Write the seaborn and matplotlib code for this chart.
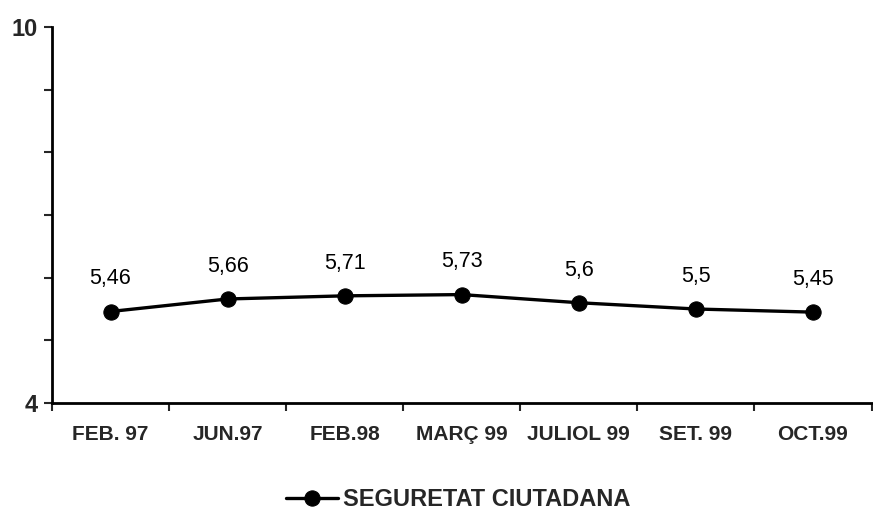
import matplotlib
matplotlib.use("Agg")
import matplotlib.pyplot as plt
import seaborn as sns
import pandas as pd
import numpy as np
from matplotlib.ticker import FixedLocator, FuncFormatter

categories = ["FEB. 97", "JUN.97", "FEB.98", "MARÇ 99", "JULIOL 99", "SET. 99", "OCT.99"]
values = [5.46, 5.66, 5.71, 5.73, 5.6, 5.5, 5.45]
value_labels = ["5,46", "5,66", "5,71", "5,73", "5,6", "5,5", "5,45"]
series_name = "SEGURETAT CIUTADANA"

sns.set_style("white")
plt.rcParams['font.family'] = ['Liberation Sans', 'DejaVu Sans']

df = pd.DataFrame({"cat": categories, "val": values, "serie": series_name})

fig = plt.figure(figsize=(8.73, 5.17), dpi=100)
ax = fig.add_axes([52/873, 1-403/517, (871.5-52)/873, (403-27)/517])

sns.lineplot(data=df, x="cat", y="val", ax=ax, color="black", linewidth=2.4,
             marker="o", markersize=11, markeredgecolor="black", label=series_name,
             sort=False)

for i, (v, t) in enumerate(zip(values, value_labels)):
    ax.annotate(t, (i, v), xytext=(0, 16), textcoords="offset points",
                ha="center", va="bottom", fontsize=15.5, color="black")

ax.set_xlim(-0.5, len(categories) - 0.5)
ax.set_ylim(4, 10)
ax.set_xlabel("")
ax.set_ylabel("")

ax.set_xticks(range(len(categories)))
ax.set_xticklabels(categories, fontsize=15, fontweight="bold")
ax.xaxis.set_minor_locator(FixedLocator(np.arange(-0.5, len(categories), 1.0)))
ax.tick_params(axis="x", which="major", length=0, pad=16)
ax.tick_params(axis="x", which="minor", length=6, width=1.5, direction="out", bottom=True)

ax.set_yticks(np.arange(4, 11, 1))
ax.yaxis.set_major_formatter(FuncFormatter(lambda v, p: f"{int(v)}" if v in (4, 10) else ""))
ax.tick_params(axis="y", which="major", length=6, width=1.5, direction="out", left=True,
               labelsize=17, pad=4)
for lab in ax.get_yticklabels():
    lab.set_fontweight("bold")

for s in ["top", "right"]:
    ax.spines[s].set_visible(False)
for s in ["left", "bottom"]:
    ax.spines[s].set_linewidth(2)
    ax.spines[s].set_color("black")

leg = ax.legend(loc="center", bbox_to_anchor=(458/873, 1-500/517), bbox_transform=fig.transFigure,
                frameon=False, handlelength=2.2, handletextpad=0.2,
                prop={"weight": "bold", "size": 17})

fig.savefig("out.png", dpi=100)
